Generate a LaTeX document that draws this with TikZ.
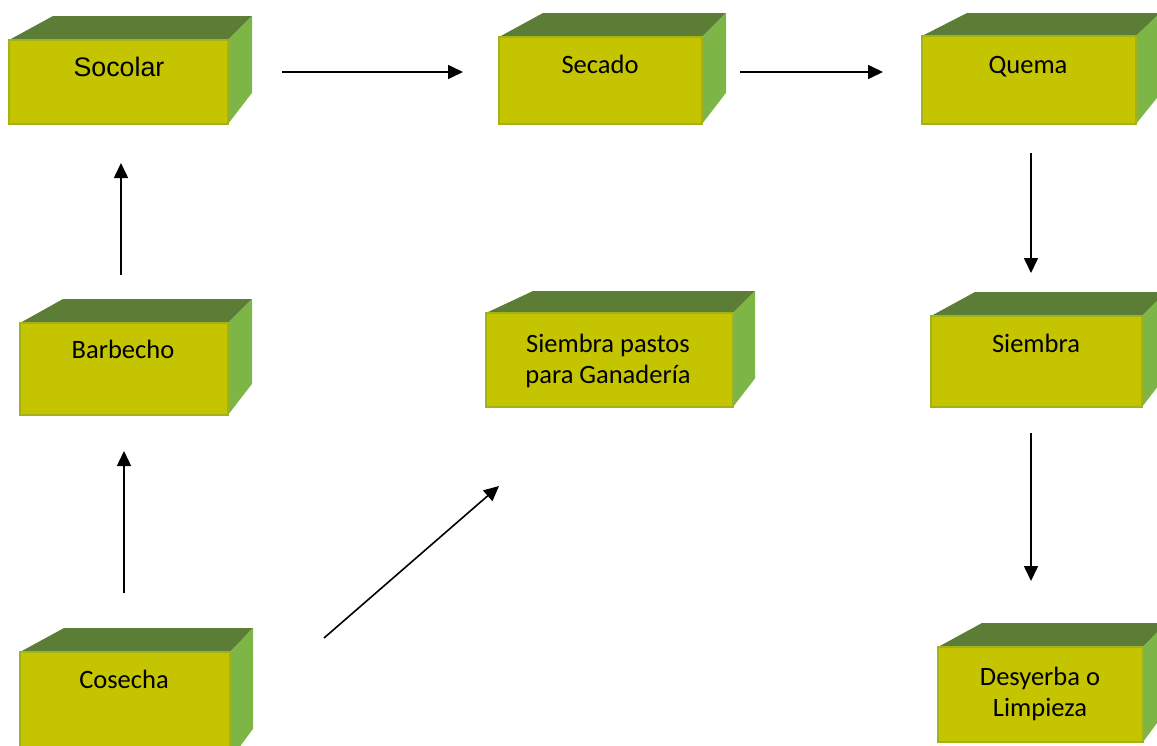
\documentclass[tikz,border=0pt]{standalone}
\usepackage{fontspec}
\setmainfont{Carlito}
\newfontfamily\arialf{Liberation Sans}
\usetikzlibrary{arrows.meta}
\definecolor{frontc}{HTML}{C4C400}
\definecolor{edgec}{HTML}{A3B21A}
\definecolor{topc}{HTML}{5B7D35}
\definecolor{sidec}{HTML}{7DB547}
\tikzset{
  frontbox/.style={rectangle, fill=frontc, draw=edgec, line width=1.2pt, inner sep=0pt, outer sep=0pt, anchor=north west},
  lbl/.style={inner sep=0pt, anchor=base, font=\fontsize{26.5}{31}\selectfont, align=center},
  flow/.style={line width=1.6pt, -{Triangle[length=15pt,width=14pt]}}
}
% #1 name, #2 front left, #3 front right, #4 front top, #5 front bottom, #6 back left, #7 back right, #8 back top
\newcommand{\greenbox}[8]{%
  \fill[topc] (#2,#4) -- (#6,#8) -- (#7,#8) -- (#3,#4) -- cycle;
  \fill[sidec] (#3,#4) -- (#7,#8) -- (#7,{#5-1.3*(#4-#8)}) -- (#3,#5) -- cycle;
  \node[frontbox, minimum width={#3-#2}, minimum height={#5-#4}] (#1) at (#2,#4) {};
}
\begin{document}
\begin{tikzpicture}[x=1pt,y=-1pt]
\useasboundingbox (0,0) rectangle (1157,745);
% boxes
\greenbox{soc}{9}{228}{40}{124}{53}{252}{16}
\greenbox{sec}{499}{702}{37}{124}{543}{726}{13}
\greenbox{que}{922}{1136}{36}{124}{967}{1160}{13}
\greenbox{bar}{20}{228}{323}{415}{63}{252}{299}
\greenbox{pas}{486}{733}{313}{407}{533}{755}{291}
\greenbox{sie}{931}{1142}{316}{407}{975}{1166}{292}
\greenbox{cos}{20}{230}{652}{760}{64}{253}{628}
\greenbox{des}{938}{1143}{647}{742}{982}{1166}{623}
% labels
\node[lbl, font=\arialf\fontsize{26.8}{30}\selectfont] (tsoc) at (119,76) {Socolar};
\node[lbl] (tsec) at (600,73) {Secado};
\node[lbl] (tque) at (1028,73) {Quema};
\node[lbl] (tbar) at (123,358) {Barbecho};
\node[lbl] (tsie) at (1036,352) {Siembra};
\node[lbl] (tcos) at (124,688) {Cosecha};
\node[lbl, anchor=center] (tpas) at (608,361) {Siembra pastos\\para Ganadería};
\node[lbl, anchor=center] (tdes) at (1040,694) {Desyerba o\\Limpieza};
% arrow end points
\coordinate (a1) at (282,72); \coordinate (a2) at (463,72);
\coordinate (b1) at (740,72); \coordinate (b2) at (883,72);
\coordinate (c1) at (1031,153); \coordinate (c2) at (1031,273);
\coordinate (d1) at (1031,433); \coordinate (d2) at (1031,581);
\coordinate (e1) at (124,593); \coordinate (e2) at (124,451);
\coordinate (f1) at (121,275); \coordinate (f2) at (121,163);
\coordinate (g1) at (324,638); \coordinate (g2) at (499,486);
\draw[flow] (a1) -- (a2);
\draw[flow] (b1) -- (b2);
\draw[flow] (c1) -- (c2);
\draw[flow] (d1) -- (d2);
\draw[flow] (e1) -- (e2);
\draw[flow] (f1) -- (f2);
\draw[flow] (g1) -- (g2);
\end{tikzpicture}
\end{document}
